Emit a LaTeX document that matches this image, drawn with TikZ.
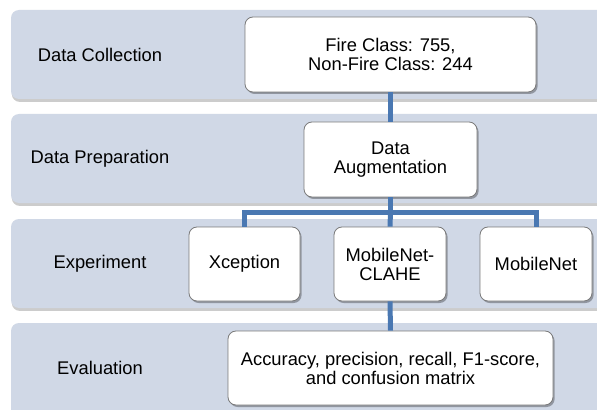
\documentclass[tikz,border=0pt]{standalone}
\usepackage{fontspec}
\setmainfont{Liberation Sans}
\usetikzlibrary{shadows}
\definecolor{bandc}{HTML}{D0D8E6}
\definecolor{linkc}{HTML}{4A78B2}
\definecolor{edgec}{HTML}{7A7A7A}
\tikzset{
  band/.style={fill=bandc, draw=none, rounded corners=6pt,
    drop shadow={shadow xshift=0.6pt, shadow yshift=-2.2pt, fill=black, opacity=0.2}},
  stagelabel/.style={font=\fontsize{13.75}{14.3}\selectfont, inner sep=0pt},
  stepbox/.style={draw=edgec, line width=0.6pt, fill=white, rounded corners=6pt,
    align=center, inner sep=2pt, font=\fontsize{13.75}{14.3}\selectfont,
    drop shadow={shadow xshift=1.2pt, shadow yshift=-1.5pt, fill=black, opacity=0.3}},
  link/.style={draw=linkc, line width=3.75pt, line join=miter, line cap=butt}
}
\begin{document}
\begin{tikzpicture}[x=0.75pt, y=-0.75pt]
\useasboundingbox (0,0) rectangle (597,410);
\clip (0,0) rectangle (597,410);
\fill[white] (0,0) rectangle (597,410);
% bands
\path[band] (11,10) rectangle (620,99);
\path[band] (11,114) rectangle (620,203);
\path[band] (11,219) rectangle (620,308);
\path[band] (11,323) rectangle (620,430);
% stage labels
\node[stagelabel] (l1) at (100,55) {Data Collection};
\node[stagelabel] (l2) at (100,159) {Data Preparation};
\node[stagelabel] (l3) at (100,264) {Experiment};
\node[stagelabel] (l4) at (100,368) {Evaluation};
% boxes
\coordinate (hub) at (390.5,212);
\node[stepbox, minimum width=218.25pt, minimum height=56.25pt] (dc) at (390.5,54.5) {Fire Class: 755,\\Non-Fire Class: 244};
\node[stepbox, minimum width=129.75pt, minimum height=56.25pt] (da) at (390.5,159.5) {Data\\Augmentation};
\node[stepbox, minimum width=83.25pt, minimum height=55.5pt] (xc) at (244.5,264) {Xception};
\node[stepbox, minimum width=84pt, minimum height=55.5pt] (cl) at (390,264) {MobileNet-\\CLAHE};
\node[stepbox, minimum width=84pt, minimum height=55.5pt] (mn) at (536,264) {MobileNet};
\node[stepbox, minimum width=243.75pt, minimum height=55.5pt] (ev) at (390.5,368) {Accuracy, precision, recall, F1-score,\\and confusion matrix};
% connectors
\draw[link] (dc.south) -- (da.north);
\draw[link] (da.south) -- (hub);
\draw[link] (xc.north) -- (xc.north |- hub) -- (mn.north |- hub) -- (mn.north);
\draw[link] (hub) -- (cl.north);
\draw[link] (cl.south) -- (ev.north);
\end{tikzpicture}
\end{document}
